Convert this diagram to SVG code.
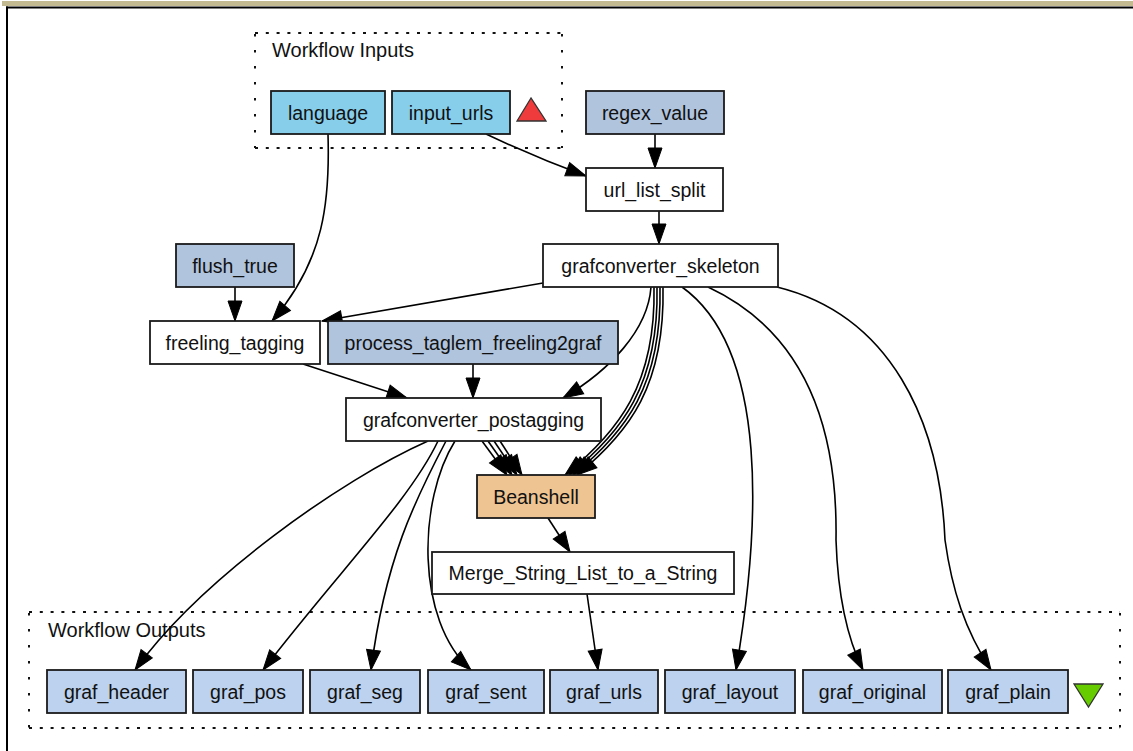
<svg xmlns="http://www.w3.org/2000/svg" width="1133" height="751" viewBox="0 0 1133 751">
  <defs>
    <marker id="arrow" markerUnits="userSpaceOnUse" markerWidth="22" markerHeight="16" refX="20" refY="7" orient="auto" overflow="visible">
      <path d="M0,0 L20,7 L0,14 Z" fill="#000" stroke="#000" stroke-width="1"/>
    </marker>
    <style>
      .box { stroke: #1a1a1a; stroke-width: 1.8; }
      .sky { fill: #87ceeb; }
      .steel { fill: #b0c4de; }
      .out { fill: #bcd2ee; }
      .plain { fill: #ffffff; }
      .bean { fill: #eec492; }
      .lbl { font-family: "Liberation Sans", Arial, sans-serif; font-size: 19.5px; fill: #111; text-anchor: middle; }
      .clbl { font-family: "Liberation Sans", Arial, sans-serif; font-size: 20px; fill: #111; }
      .dh { stroke: #111; stroke-width: 2; stroke-dasharray: 3 7.8; fill: none; }
      .dv { stroke: #111; stroke-width: 2; stroke-dasharray: 2.5 13.5; fill: none; }
      .edge { fill: none; stroke: #000; stroke-width: 1.6; marker-end: url(#arrow); }
    </style>
  </defs>

  <rect x="0" y="0" width="1133" height="751" fill="#ffffff"/>

  <!-- window frame -->
  <rect x="2" y="1" width="1131" height="5" fill="#c4ba92"/>
  <line x1="6" y1="7.5" x2="1133" y2="7.5" stroke="#000" stroke-width="2"/>
  <line x1="7" y1="6.5" x2="7" y2="751" stroke="#000" stroke-width="2"/>

  <!-- clusters -->
  <g id="cluster-inputs">
    <line class="dh" x1="255" y1="33" x2="562" y2="33"/>
    <line class="dh" x1="255" y1="148" x2="562" y2="148"/>
    <line class="dv" x1="255" y1="34" x2="255" y2="148"/>
    <line class="dv" x1="562" y1="34" x2="562" y2="148"/>
    <text class="clbl" x="272" y="57">Workflow Inputs</text>
    <polygon points="531,98 517,121 546,121" fill="#ef3b3b" stroke="#333" stroke-width="1.3"/>
  </g>
  <g id="cluster-outputs">
    <line class="dh" x1="29" y1="612" x2="1120" y2="612"/>
    <line class="dh" x1="29" y1="728" x2="1120" y2="728"/>
    <line class="dv" x1="29" y1="613" x2="29" y2="728"/>
    <line class="dv" x1="1120" y1="613" x2="1120" y2="728"/>
    <text class="clbl" x="48" y="637">Workflow Outputs</text>
    <polygon points="1074,684 1103,684 1088.5,707" fill="#66cc00" stroke="#333" stroke-width="1.3"/>
  </g>

  <!-- connectors -->
  <g id="edges">
    <path class="edge" d="M486,134 C520,150 548,162 586,176"/>
    <path class="edge" d="M655,134 L655,168"/>
    <path class="edge" d="M659,211 L659,244"/>
    <path class="edge" d="M328,134 C330,200 325,260 272,321"/>
    <path class="edge" d="M235,287 L235,321"/>
    <path class="edge" d="M543,283 L322,321"/>
    <path class="edge" d="M303,364 L407,398"/>
    <path class="edge" d="M473,364 L473,398"/>
    <path class="edge" d="M651,287 C648,330 610,370 563,398"/>
    <!-- skeleton to Beanshell, four ports -->
    <path class="edge" d="M654,287 C656,385 618,432 565,475"/>
    <path class="edge" d="M657,287 C659,385 622,432 569,475"/>
    <path class="edge" d="M660,287 C662,385 626,432 573,475"/>
    <path class="edge" d="M663,287 C665,385 630,432 577,475"/>
    <!-- postagging to Beanshell, four ports -->
    <path class="edge" d="M482,441 L507,475"/>
    <path class="edge" d="M488,441 L512,475"/>
    <path class="edge" d="M494,441 L517,475"/>
    <path class="edge" d="M500,441 L522,475"/>
    <path class="edge" d="M548,518 L570,552"/>
    <path class="edge" d="M587,594 L598,670"/>
    <!-- postagging to outputs -->
    <path class="edge" d="M428,441 C340,480 200,580 135,670"/>
    <path class="edge" d="M438,441 C410,500 340,570 263,670"/>
    <path class="edge" d="M446,441 C415,500 385,560 371,670"/>
    <path class="edge" d="M455,441 C418,500 415,620 471,670"/>
    <!-- skeleton to outputs -->
    <path class="edge" d="M682,287 C770,350 760,530 736,670"/>
    <path class="edge" d="M708,287 C800,330 838,420 836,540 C838,600 848,640 863,670"/>
    <path class="edge" d="M777,287 C890,315 940,420 945,540 C952,590 965,630 991,670"/>
  </g>

  <!-- nodes -->
  <g id="n-language"><rect class="box sky" x="271" y="91" width="114" height="43"/><text class="lbl" x="328" y="119.5">language</text></g>
  <g id="n-input_urls"><rect class="box sky" x="392" y="91" width="118" height="43"/><text class="lbl" x="451" y="119.5">input_urls</text></g>
  <g id="n-regex_value"><rect class="box steel" x="586" y="91" width="138" height="43"/><text class="lbl" x="655" y="119.5">regex_value</text></g>
  <g id="n-url_list_split"><rect class="box plain" x="586" y="168" width="137" height="43"/><text class="lbl" x="654.5" y="196.5">url_list_split</text></g>
  <g id="n-flush_true"><rect class="box steel" x="176" y="244" width="118" height="43"/><text class="lbl" x="235" y="272.5">flush_true</text></g>
  <g id="n-grafconverter_skeleton"><rect class="box plain" x="543" y="244" width="235" height="43"/><text class="lbl" x="660.5" y="272.5">grafconverter_skeleton</text></g>
  <g id="n-freeling_tagging"><rect class="box plain" x="150" y="321" width="170" height="43"/><text class="lbl" x="235" y="349.5">freeling_tagging</text></g>
  <g id="n-process_taglem_freeling2graf"><rect class="box steel" x="328" y="321" width="290" height="43"/><text class="lbl" x="473" y="349.5">process_taglem_freeling2graf</text></g>
  <g id="n-grafconverter_postagging"><rect class="box plain" x="346" y="398" width="255" height="43"/><text class="lbl" x="473.5" y="426.5">grafconverter_postagging</text></g>
  <g id="n-Beanshell"><rect class="box bean" x="477" y="475" width="118" height="43"/><text class="lbl" x="536" y="503.5">Beanshell</text></g>
  <g id="n-Merge_String_List_to_a_String"><rect class="box plain" x="432" y="552" width="302" height="42"/><text class="lbl" x="583" y="580">Merge_String_List_to_a_String</text></g>

  <g id="n-graf_header"><rect class="box out" x="47" y="670" width="139" height="43"/><text class="lbl" x="116.5" y="698.5">graf_header</text></g>
  <g id="n-graf_pos"><rect class="box out" x="193" y="670" width="110" height="43"/><text class="lbl" x="248" y="698.5">graf_pos</text></g>
  <g id="n-graf_seg"><rect class="box out" x="310" y="670" width="110" height="43"/><text class="lbl" x="365" y="698.5">graf_seg</text></g>
  <g id="n-graf_sent"><rect class="box out" x="428" y="670" width="116" height="43"/><text class="lbl" x="486" y="698.5">graf_sent</text></g>
  <g id="n-graf_urls"><rect class="box out" x="550" y="670" width="108" height="43"/><text class="lbl" x="604" y="698.5">graf_urls</text></g>
  <g id="n-graf_layout"><rect class="box out" x="665" y="670" width="130" height="43"/><text class="lbl" x="730" y="698.5">graf_layout</text></g>
  <g id="n-graf_original"><rect class="box out" x="803" y="670" width="139" height="43"/><text class="lbl" x="872.5" y="698.5">graf_original</text></g>
  <g id="n-graf_plain"><rect class="box out" x="948" y="670" width="120" height="43"/><text class="lbl" x="1008" y="698.5">graf_plain</text></g>
</svg>
